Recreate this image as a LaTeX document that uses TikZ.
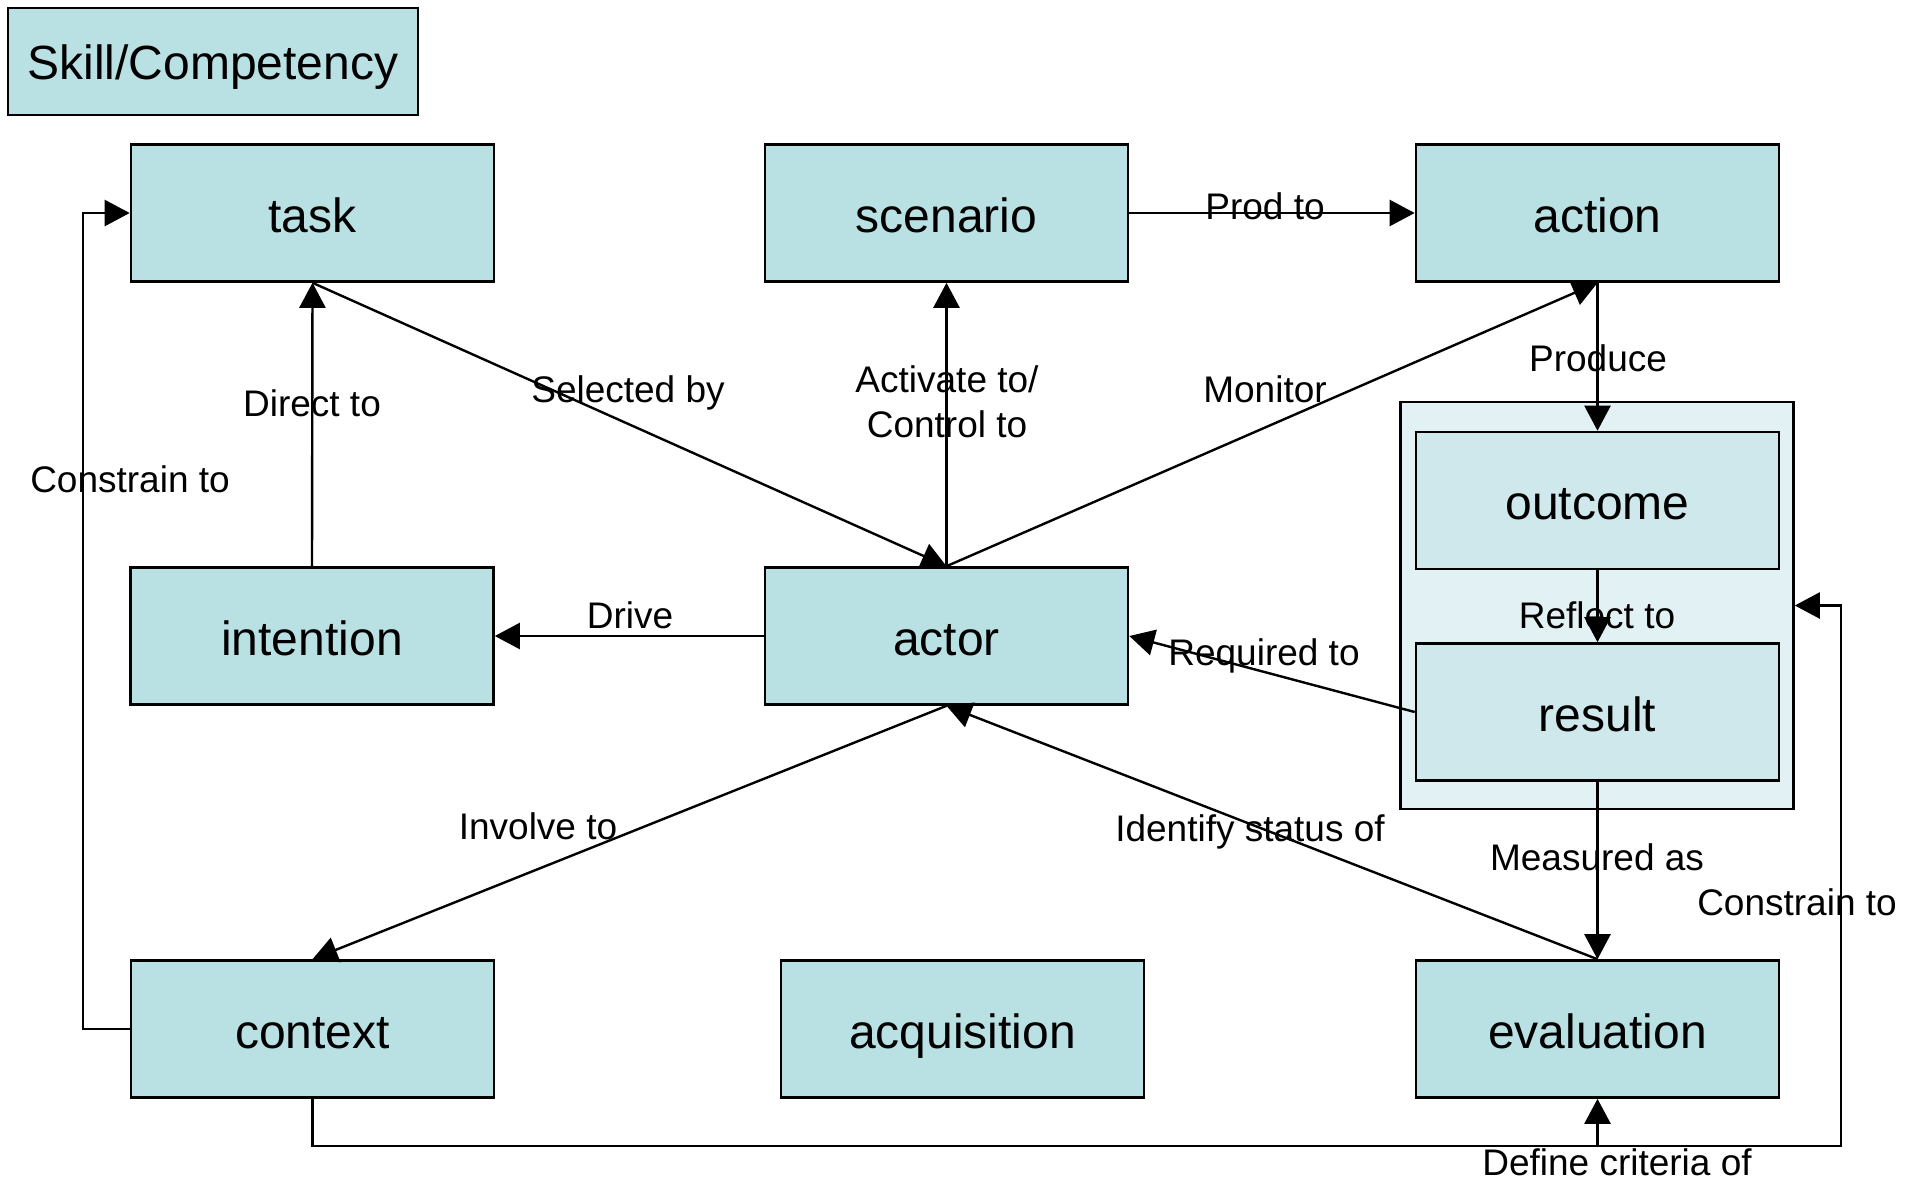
\documentclass[tikz,border=0pt]{standalone}
\usepackage{fontspec}
\setmainfont{Liberation Sans}
\usetikzlibrary{arrows.meta}
\definecolor{boxfill}{RGB}{185,224,227}
\definecolor{groupfill}{RGB}{226,242,244}
\definecolor{innerfill}{RGB}{206,232,235}
\begin{document}
\begin{tikzpicture}[x=1pt,y=-1pt,
  box/.style={draw=black,line width=2.6pt,fill=boxfill,minimum width=363pt,minimum height=137pt,inner sep=0pt,text height=38pt,text depth=0pt,font=\fontsize{48}{58}\selectfont},
  innerbox/.style={box,fill=innerfill},
  groupbox/.style={draw=black,line width=2.6pt,fill=groupfill,minimum width=393pt,minimum height=407pt,inner sep=0pt},
  lbl/.style={inner sep=0pt,font=\fontsize{37}{45}\selectfont,align=center},
  lbl1/.style={lbl,text height=27pt,text depth=0pt},
  conn/.style={line width=2.4pt},
  arr/.style={conn,-{Triangle[length=25pt,width=26pt]}}
]
\useasboundingbox (0,0) rectangle (1917,1176);
\fill[white] (0,0) rectangle (1917,1176);

% group container
\node[groupbox] (group) at (1597,605.5) {};

% nodes
\node[box,minimum width=410pt,minimum height=107pt,text height=35pt,font=\fontsize{48}{58}\selectfont] (skill) at (213,61.5) {Skill/Competency};
\node[box] (task) at (312.5,213) {task};
\node[box] (scenario) at (946.5,213) {scenario};
\node[box] (action) at (1597.5,213) {action};
\node[box] (intention) at (312,636) {intention};
\node[box] (actor) at (946.5,636) {actor};
\node[box] (context) at (312.5,1029) {context};
\node[box] (acquisition) at (962.5,1029) {acquisition};
\node[box] (evaluation) at (1597.5,1029) {evaluation};
\node[innerbox] (outcome) at (1597.5,500.5) {outcome};
\node[innerbox] (result) at (1597.5,712) {result};

% helper coordinates
\coordinate (leftbend) at (83,1029);
\coordinate (botleft) at (312.5,1146);
\coordinate (botright) at (1841,1146);

% connectors
\draw[arr] (scenario.east) -- (action.west);
\draw[arr] (task.south) -- (actor.north);
\draw[arr] (intention.north) -- (task.south);
\draw[arr] (actor.north) -- (scenario.south);
\draw[arr] (actor.north) -- (action.south);
\draw[arr] (action.south) -- (outcome.north);
\draw[arr] (outcome.south) -- (result.north);
\draw[arr] (result.west) -- (actor.east);
\draw[arr] (actor.west) -- (intention.east);
\draw[arr] (actor.south) -- (context.north);
\draw[arr] (evaluation.north) -- (actor.south);
\draw[arr] (result.south) -- (evaluation.north);
\draw[arr] (context.west) -- (leftbend) |- (task.west);
\draw[arr] (context.south) -- (botleft) -- (botright) |- (group.east);
\draw[arr] (evaluation.south |- botleft) -- (evaluation.south);

% labels
\node[lbl1] (lProd) at (1265,206) {Prod to};
\node[lbl1] (lSel) at (628,389) {Selected by};
\node[lbl1] (lDirect) at (312,403) {Direct to};
\node[lbl] (lAct) at (947,402) {Activate to/\\Control to};
\node[lbl1] (lMon) at (1265,389) {Monitor};
\node[lbl1] (lProduce) at (1598,358) {Produce};
\node[lbl1] (lCon1) at (130,479) {Constrain to};
\node[lbl1] (lDrive) at (630,615) {Drive};
\node[lbl1] (lRefl) at (1597,615) {Reflect to};
\node[lbl1] (lReq) at (1264,652) {Required to};
\node[lbl1] (lInv) at (538,826) {Involve to};
\node[lbl1] (lId) at (1250,828) {Identify status of};
\node[lbl1] (lMeas) at (1597,857) {Measured as};
\node[lbl1] (lCon2) at (1797,902) {Constrain to};
\node[lbl,anchor=base] (lDef) at (1617,1175) {Define criteria of};
\end{tikzpicture}
\end{document}
